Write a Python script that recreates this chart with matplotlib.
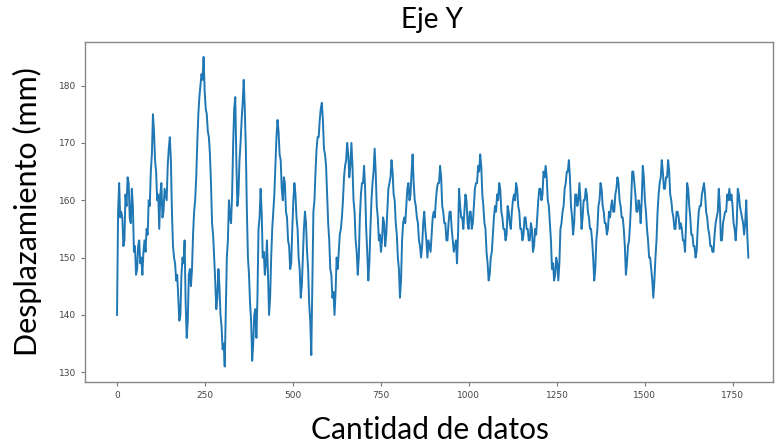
import numpy as np
import matplotlib.pyplot as plt

# un valor cada 3 datos
step = 3
desplazamiento = [
    140, 158, 163, 157, 158, 157, 152, 153, 161, 159, 164, 163, 157, 156, 162, 159, 151, 152, 147, 148,
    152, 153, 149, 150, 147, 151, 153, 151, 155, 154, 160, 159, 165, 168, 175, 172, 167, 165, 160, 161,
    155, 161, 163, 157, 158, 162, 161, 160, 166, 169, 171, 167, 158, 152, 150, 149, 146, 147, 143, 139,
    140, 147, 150, 149, 153, 142, 136, 139, 147, 148, 145, 148, 154, 158, 160, 164, 170, 175, 178, 180,
    182, 181, 185, 179, 176, 175, 172, 171, 168, 163, 156, 154, 150, 146, 141, 143, 148, 145, 140, 138,
    134, 135, 131, 141, 150, 153, 160, 157, 156, 161, 170, 176, 178, 167, 159, 161, 167, 170, 174, 177,
    181, 176, 169, 158, 150, 147, 142, 139, 132, 135, 140, 141, 136, 143, 155, 157, 162, 158, 150, 151,
    147, 149, 153, 147, 140, 143, 150, 155, 158, 161, 166, 171, 174, 172, 168, 167, 162, 160, 164, 163,
    158, 157, 153, 152, 148, 149, 155, 160, 163, 161, 157, 155, 150, 148, 143, 145, 150, 155, 158, 156,
    151, 148, 142, 139, 133, 146, 158, 160, 165, 169, 171, 171, 174, 176, 177, 174, 169, 168, 166, 161,
    156, 153, 148, 147, 143, 144, 140, 144, 150, 148, 151, 154, 155, 157, 160, 164, 166, 167, 170, 168,
    164, 166, 170, 166, 160, 158, 153, 151, 147, 150, 157, 161, 163, 163, 166, 162, 155, 151, 146, 149,
    155, 160, 163, 165, 169, 165, 159, 157, 153, 154, 151, 153, 157, 156, 152, 154, 158, 162, 163, 164,
    167, 165, 161, 160, 156, 154, 150, 148, 143, 146, 153, 156, 157, 156, 159, 162, 163, 160, 161, 165,
    168, 163, 160, 159, 157, 156, 153, 152, 150, 152, 156, 158, 155, 153, 150, 153, 152, 151, 154, 157,
    158, 157, 160, 162, 163, 163, 166, 164, 159, 158, 156, 156, 153, 153, 156, 158, 158, 155, 153, 151,
    152, 153, 149, 154, 162, 159, 157, 157, 155, 158, 161, 160, 156, 155, 158, 158, 155, 156, 159, 162,
    163, 163, 166, 165, 168, 166, 161, 159, 156, 155, 151, 149, 146, 147, 150, 151, 154, 157, 159, 158,
    161, 160, 163, 162, 158, 157, 155, 155, 153, 154, 159, 158, 156, 155, 158, 160, 161, 160, 163, 162,
    159, 158, 155, 155, 153, 154, 157, 157, 155, 155, 153, 153, 156, 155, 151, 152, 155, 154, 157, 160,
    162, 162, 160, 161, 165, 164, 166, 164, 160, 159, 156, 153, 148, 149, 146, 147, 150, 149, 146, 149,
    155, 156, 158, 159, 162, 163, 165, 165, 167, 164, 159, 157, 154, 156, 161, 161, 159, 160, 163, 160,
    155, 157, 160, 160, 162, 161, 158, 157, 155, 155, 153, 150, 146, 148, 153, 155, 159, 160, 163, 162,
    159, 158, 156, 156, 154, 155, 158, 157, 159, 160, 158, 158, 161, 162, 164, 163, 160, 159, 157, 157,
    155, 152, 147, 149, 152, 153, 156, 160, 165, 165, 163, 161, 158, 158, 160, 159, 156, 160, 166, 164,
    160, 158, 155, 153, 150, 150, 148, 146, 143, 146, 150, 153, 158, 161, 163, 164, 167, 165, 162, 162,
    164, 164, 167, 165, 161, 160, 158, 157, 155, 155, 158, 158, 157, 155, 156, 155, 153, 153, 151, 156,
    163, 162, 159, 157, 154, 154, 152, 152, 150, 151, 155, 158, 159, 159, 161, 162, 163, 161, 158, 157,
    155, 154, 152, 152, 151, 151, 154, 156, 157, 158, 162, 159, 153, 153, 156, 157, 158, 158, 161, 160,
    162, 160, 161, 159, 156, 155, 153, 156, 162, 161, 159, 158, 157, 156, 154, 156, 160, 154, 150,
]
datos = np.arange(len(desplazamiento)) * step

fig = plt.figure(figsize=(7.75, 4.46), dpi=100)
ax = fig.add_axes([0.1097, 0.1435, 0.8877, 0.7623])
ax.plot(datos, desplazamiento, color="#1f77b4", linewidth=1.4)

ax.set_xlim(-91, 1864)
ax.set_ylim(128.3, 187.6)
ax.set_xticks([0, 250, 500, 750, 1000, 1250, 1500, 1750])
ax.set_yticks([130, 140, 150, 160, 170, 180])
ax.tick_params(labelsize=6.5, labelcolor="#444444", color="#777777", length=3, width=0.8)
for s in ax.spines.values():
    s.set_color("#888888")
    s.set_linewidth(1.0)

fig.text(0.557, 0.955, "Eje Y", ha="center", va="center", fontsize=20, family="Lato")
fig.text(0.036, 0.525, "Desplazamiento (mm)", ha="center", va="center",
         rotation=90, fontsize=22, family="Lato")
fig.text(0.555, 0.035, "Cantidad de datos", ha="center", va="center", fontsize=21.5, family="Lato")

fig.savefig("out.png", dpi=100)
